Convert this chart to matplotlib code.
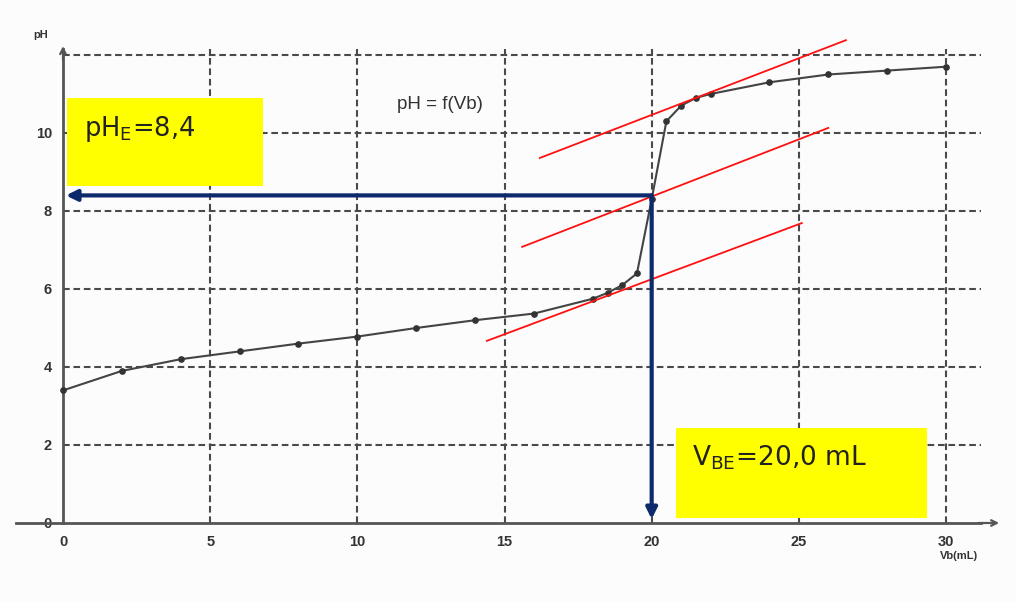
import matplotlib
matplotlib.use("Agg")
import matplotlib.pyplot as plt
from matplotlib.patches import Rectangle

plt.rcParams['mathtext.default'] = 'regular'

# ---- data ----
vb = [0, 2, 4, 6, 8, 10, 12, 14, 16, 18, 18.5, 19, 19.5, 20, 20.5, 21, 21.5, 22, 24, 26, 28, 30]
ph = [3.4, 3.9, 4.2, 4.4, 4.6, 4.78, 5.0, 5.2, 5.37, 5.75, 5.9, 6.1, 6.4, 8.3, 10.3, 10.7, 10.9, 11.0, 11.3, 11.5, 11.6, 11.7]

# parallel tangent lines (start/end points)
tan_x0 = [16.2, 15.6, 14.4]
tan_y0 = [9.36, 7.08, 4.67]
tan_x1 = [26.6, 26.0, 25.1]
tan_y1 = [12.38, 10.13, 7.69]

# equivalence point
vbe = 20.0
phe = 8.4

xticks = [0, 5, 10, 15, 20, 25, 30]
xtick_labels = ['0', '5', '10', '15', '20', '25', '30']
yticks = [0, 2, 4, 6, 8, 10, 12]
ytick_labels = ['0', '2', '4', '6', '8', '10', '']

W, H = 1016, 602
bg = '#fbfcfb'
fig = plt.figure(figsize=(W / 100, H / 100), dpi=100)
fig.patch.set_facecolor(bg)

# axes placement so that x=0 -> px 63, x=30 -> px 946, y=0 -> py 523, y=12 -> py 55
xmin, xmax = -1.6, 31.2
ymin, ymax = -1.2, 12.15
ppx = (946 - 63) / 30.0
ppy = (523 - 55) / 12.0
left_px = 63 + xmin * ppx
right_px = 63 + xmax * ppx
bot_py = 523 - ymin * ppy
top_py = 523 - ymax * ppy
ax = fig.add_axes([left_px / W, 1 - bot_py / H, (right_px - left_px) / W, (bot_py - top_py) / H])
ax.set_facecolor('none')
ax.set_xlim(xmin, xmax)
ax.set_ylim(ymin, ymax)

for s in ['top', 'right']:
    ax.spines[s].set_visible(False)
ax.spines['left'].set_position(('data', 0))
ax.spines['bottom'].set_position(('data', 0))
ax.spines['left'].set_bounds(0, ymax)
ax.spines['bottom'].set_bounds(xmin, xmax)
for s in ['left', 'bottom']:
    ax.spines[s].set_color('#555555')
    ax.spines[s].set_linewidth(2.0)
    ax.spines[s].set_zorder(3)

ax.set_xticks(xticks)
ax.set_xticklabels(xtick_labels)
ax.set_yticks(yticks)
ax.set_yticklabels(ytick_labels)
ax.tick_params(axis='both', length=0, labelsize=10.5, labelcolor='#333333')
ax.tick_params(axis='x', pad=9)
ax.tick_params(axis='y', pad=8)
for lab in ax.get_xticklabels() + ax.get_yticklabels():
    lab.set_fontfamily('Liberation Sans')
    lab.set_fontweight('bold')
ax.get_yticklabels()[0].set_bbox(dict(facecolor=bg, edgecolor='none', pad=1.5))

# dashed grid (limited to the positive quadrant, as in the reference)
gstyle = dict(colors='#4a4a4a', linestyles=(0, (3.2, 1.8)), linewidth=1.5, zorder=1)
ax.vlines(xticks[1:], 0, ymax, **gstyle)
ax.hlines(yticks[1:], 0, xmax, **gstyle)

# axis arrows
ax.annotate('', xy=(31.9, 0), xytext=(31.0, 0), xycoords='data',
            arrowprops=dict(arrowstyle='->', color='#555555', lw=1.6), annotation_clip=False)
ax.annotate('', xy=(0, 12.3), xytext=(0, 11.8), xycoords='data',
            arrowprops=dict(arrowstyle='->', color='#555555', lw=1.6), annotation_clip=False)

# curve
ax.plot(vb, ph, color='#444444', lw=1.5, marker='o', ms=3.8, mfc='#333333', mec='#333333', zorder=4)

# tangents
for x0, y0, x1, y1 in zip(tan_x0, tan_y0, tan_x1, tan_y1):
    ax.plot([x0, x1], [y0, y1], color='#ff1010', lw=1.3, zorder=5, clip_on=False)

# blue arrows
navy = '#0c2a6c'
ax.annotate('', xy=(0.1, phe), xytext=(vbe, phe),
            arrowprops=dict(arrowstyle='-|>', color=navy, lw=3, mutation_scale=16, shrinkA=0, shrinkB=0), zorder=6)
ax.annotate('', xy=(vbe, 0.1), xytext=(vbe, phe),
            arrowprops=dict(arrowstyle='-|>', color=navy, lw=3, mutation_scale=16, shrinkA=0, shrinkB=0), zorder=6)

# yellow boxes
ax.add_patch(Rectangle((0.14, 8.64), 6.64, 2.26, facecolor='#ffff00', edgecolor='none', zorder=7))
ax.text(0.72, 10.1, r'pH$_{E}$=8,4', fontsize=18.5, family='DejaVu Sans', color='#222222',
        va='center', ha='left', zorder=8)
ax.add_patch(Rectangle((20.83, 0.13), 8.53, 2.31, facecolor='#ffff00', edgecolor='none', zorder=7))
ax.text(21.37, 1.67, r'V$_{BE}$=20,0 mL', fontsize=19, family='DejaVu Sans', color='#222222',
        va='center', ha='left', zorder=8)

# labels
ax.text(12.8, 10.72, 'pH = f(Vb)', fontsize=13.5, family='Liberation Sans', color='#333333',
        ha='center', va='center')
ax.text(-0.75, 12.5, 'pH', fontsize=8, family='Liberation Sans', fontweight='bold', color='#333333',
        ha='center', va='center')
ax.text(30.45, -0.84, 'Vb(mL)', fontsize=8, family='Liberation Sans', fontweight='bold', color='#333333',
        ha='center', va='center')

fig.savefig('out.png', dpi=100, facecolor=fig.get_facecolor())
